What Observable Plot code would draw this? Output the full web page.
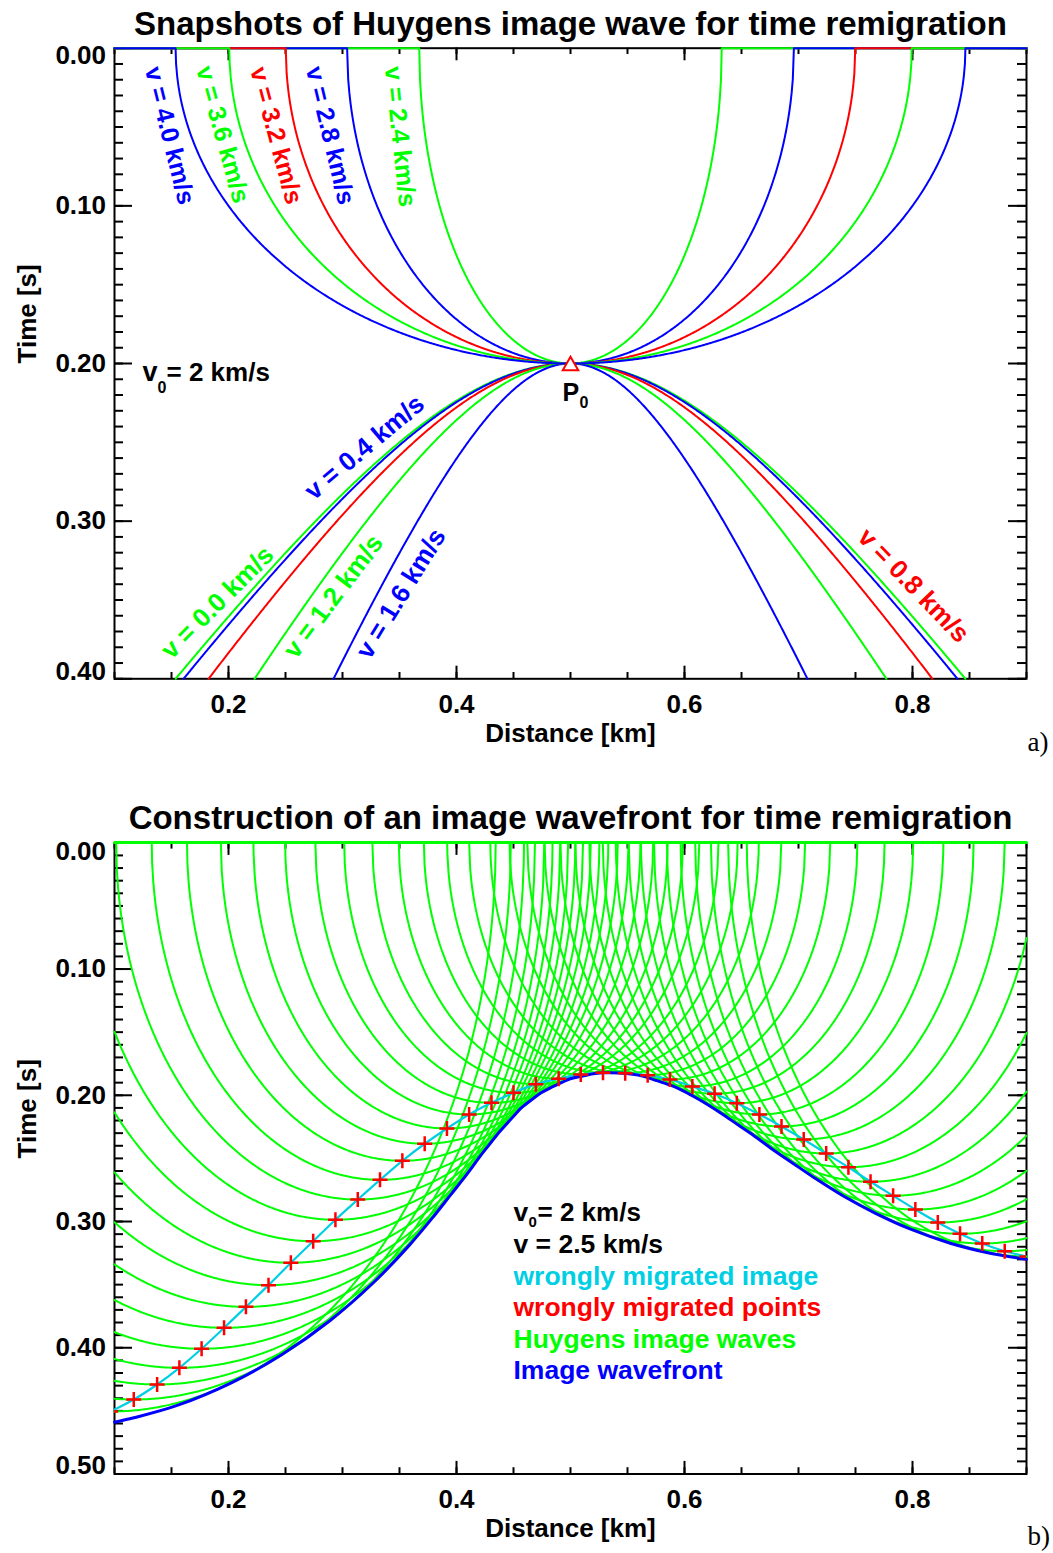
<!DOCTYPE html>
<html>
<head>
<meta charset="utf-8">
<script src="https://cdn.jsdelivr.net/npm/d3@7"></script>
<script src="https://cdn.jsdelivr.net/npm/@observablehq/plot@0.6"></script>
<style>
  html, body { margin: 0; padding: 0; background: #fff; overflow: hidden; }
  #wrap { width: 1053px; }
  #wrap svg { display: block; }
</style>
</head>
<body>
<div id="wrap"></div>
<script>
// ================= DATA =================
// Panel a: Huygens image wave of point P0 for several remigration velocities
const v0A = 2;                                        // km/s (label "v0 = 2 km/s")
const p0 = [0.5, 0.2];                                // P0: distance [km], time [s]
const velocitiesA = [0.0, 0.4, 0.8, 1.2, 1.6, 2.4, 2.8, 3.2, 3.6, 4.0]; // km/s (curve labels)
const labelTextsA = velocitiesA.map(v => `v = ${v.toFixed(1)} km/s`);

// Panel b: wrongly migrated points (red crosses)
const v0B = 2;                                        // km/s
const vB = 2.5;                                       // km/s
const pointsX = [0.0965, 0.1169, 0.1374, 0.1569, 0.1764, 0.1961, 0.2153, 0.2351, 0.2547, 0.2743,
                 0.2938, 0.3134, 0.3329, 0.3525, 0.3721, 0.3916, 0.4111, 0.4307, 0.4500, 0.4696,
                 0.4896, 0.5090, 0.5285, 0.5480, 0.5677, 0.5872, 0.6069, 0.6264, 0.6459, 0.6657,
                 0.6851, 0.7046, 0.7243, 0.7438, 0.7632, 0.7830, 0.8025, 0.8222, 0.8417, 0.8612,
                 0.8809, 0.9004];
const pointsT = [0.4505, 0.4410, 0.4291, 0.4159, 0.4008, 0.3842, 0.3676, 0.3504, 0.3327, 0.3156,
                 0.2986, 0.2826, 0.2670, 0.2519, 0.2384, 0.2263, 0.2152, 0.2060, 0.1980, 0.1912,
                 0.1869, 0.1835, 0.1822, 0.1825, 0.1841, 0.1875, 0.1930, 0.1988, 0.2063, 0.2152,
                 0.2247, 0.2350, 0.2461, 0.2570, 0.2685, 0.2796, 0.2905, 0.3008, 0.3097, 0.3174,
                 0.3235, 0.3277];
// Image wavefront (blue envelope)
const wavefrontX = [0.100, 0.117, 0.155, 0.2029, 0.2466, 0.2889, 0.3266, 0.3587, 0.3806, 0.3945,
                    0.4097, 0.4208, 0.4291, 0.4356, 0.4419, 0.4508, 0.4559, 0.4599, 0.4673, 0.4739,
                    0.4819, 0.4924, 0.4997, 0.5101, 0.5215, 0.5311, 0.5430, 0.5545, 0.5633, 0.5756,
                    0.5883, 0.5975, 0.6089, 0.6208, 0.6324, 0.6466, 0.6606, 0.6761, 0.6950, 0.7141,
                    0.7393, 0.7676, 0.7984, 0.8331, 0.8650, 0.9000];
const wavefrontT = [0.4590, 0.4555, 0.4457, 0.4276, 0.4056, 0.3786, 0.3489, 0.3187, 0.2952, 0.2793,
                    0.2619, 0.2482, 0.2387, 0.2312, 0.2248, 0.2158, 0.2108, 0.2077, 0.2025, 0.1982,
                    0.1943, 0.1898, 0.1869, 0.1849, 0.1827, 0.1822, 0.1824, 0.1833, 0.1848, 0.1884,
                    0.1922, 0.1959, 0.2014, 0.2077, 0.2144, 0.2232, 0.2318, 0.2421, 0.2538, 0.2655,
                    0.2798, 0.2935, 0.3061, 0.3172, 0.3245, 0.3300];

// Axis ticks
const xDomain = [0.1, 0.9];
const xTicks = [0.2, 0.4, 0.6, 0.8];
const yTicksA = [0.0, 0.1, 0.2, 0.3, 0.4];
const yTicksB = [0.0, 0.1, 0.2, 0.3, 0.4, 0.5];

// ================= STYLES =================
const GREEN = "#00ff00", BLUE = "#0000ff", RED = "#ff0000", CYAN = "#00cfe3";
const colorsA = [GREEN, BLUE, RED, GREEN, BLUE, GREEN, BLUE, RED, GREEN, BLUE];
// label placement for each velocity in panel a: [centre x px, centre y px, rotation deg, font size]
const labelPlaceA = [[217, 602, -45, 26], [364, 447, -40, 26], [913, 585, 46, 26], [333, 596, -53, 26],
                     [400.5, 593, -58.5, 26], [399.5, 136, 84, 25], [329.5, 135, 76.5, 25],
                     [275.5, 135, 75, 25], [222, 134, 74.5, 25], [169, 135, 76, 25]];
const FONT = "'Liberation Sans', Arial, Helvetica, sans-serif";
const W = 1053, ML = 114, MR = 27;

// Huygens image wave of a point (xc, tc) for time remigration v0 -> v:
// t^2 = tc^2 + 4 (x - xc)^2 / (v0^2 - v^2), evaluated across the plotted distance range
function imageWave(xc, tc, v, vRef, xLo, xHi, tMax) {
  const c = 4 / (vRef * vRef - v * v);
  let lo = xLo, hi = xHi;
  const extra = [];
  if (c > 0) {
    const dm = Math.sqrt((tMax * tMax - tc * tc) / c);
    lo = Math.max(xLo, xc - dm); hi = Math.min(xHi, xc + dm);
    extra.push(lo, hi);
  } else {
    const w = Math.sqrt(tc * tc / -c);
    for (const e of [xc - w, xc + w]) if (e > xLo && e < xHi) extra.push(e);
    extra.push(xLo, xHi);
  }
  const xs = d3.range(Math.ceil(lo / 0.001), Math.floor(hi / 0.001) + 1)
    .map(i => i * 0.001).filter(x => x > lo && x < hi).concat(extra).sort((a, b) => a - b);
  return xs.map(x => ({x, t: Math.sqrt(Math.max(0, tc * tc + c * (x - xc) ** 2))}));
}

function makePanel({H, MT, MB, yMax, yTicks, yShift, marks}) {
  const pxX = (W - ML - MR) / (xDomain[1] - xDomain[0]);
  const pxY = (H - MT - MB) / yMax;
  const [xa, xb] = xDomain;
  const yMinor = d3.range(0, Math.round(yMax * 100) + 1).map(i => i / 100);
  const xMinor = d3.range(Math.round(xa * 20), Math.round(xb * 20) + 1).map(i => i / 20);
  const tk = {stroke: "black", strokeWidth: 2};
  const lab = {fontSize: 26, fontWeight: "bold", fill: "black"};
  const yText = d => d.toFixed(2);
  const axes = [
    Plot.ruleY(yMinor, {y: d => d, x1: () => xa, x2: () => xa + 9 / pxX, ...tk}),
    Plot.ruleY(yTicks, {y: d => d, x1: () => xa, x2: () => xa + 18 / pxX, ...tk}),
    Plot.ruleY(yMinor, {y: d => d, x1: () => xb - 9 / pxX, x2: () => xb, ...tk}),
    Plot.ruleY(yTicks, {y: d => d, x1: () => xb - 18 / pxX, x2: () => xb, ...tk}),
    Plot.ruleX(xMinor, {x: d => d, y1: () => yMax, y2: () => yMax - 6.3 / pxY, ...tk}),
    Plot.ruleX(xTicks, {x: d => d, y1: () => yMax, y2: () => yMax - 12.6 / pxY, ...tk}),
    Plot.ruleX(xMinor, {x: d => d, y1: () => 0, y2: () => 6.3 / pxY, ...tk}),
    Plot.ruleX(xTicks, {x: d => d, y1: () => 0, y2: () => 12.6 / pxY, ...tk}),
    Plot.frame({stroke: "black", strokeWidth: 2})
  ];
  const tickLabels = [
    Plot.text(yTicks.slice(0, 1), {x: () => xa, y: d => d, text: yText, textAnchor: "end", dx: -8.5, dy: yShift, ...lab}),
    Plot.text(yTicks.slice(1, -1), {x: () => xa, y: d => d, text: yText, textAnchor: "end", dx: -8.5, ...lab}),
    Plot.text(yTicks.slice(-1), {x: () => xa, y: d => d, text: yText, textAnchor: "end", dx: -8.5, dy: -yShift, ...lab}),
    Plot.text(xTicks, {x: d => d, frameAnchor: "bottom", dy: 34.3, lineAnchor: "bottom", text: d => d.toFixed(1), ...lab})
  ];
  return Plot.plot({
    width: W, height: H,
    marginLeft: ML, marginRight: MR, marginTop: MT, marginBottom: MB,
    x: {domain: xDomain, axis: null},
    y: {domain: [0, yMax], reverse: true, axis: null},
    style: {fontFamily: FONT, background: "white", color: "black", overflow: "visible"},
    marks: [...axes, ...marks, ...tickLabels]
  });
}

// text placed at page-pixel position (px, py) of a panel whose frame starts at (ML, MT)
function note(text, px, py, MT, opts = {}) {
  return Plot.text([text], {
    frameAnchor: "top-left", dx: px - ML, dy: py - MT, text: d => d,
    textAnchor: "start", lineAnchor: "bottom", fontWeight: "bold", fontSize: 26, fill: "black", ...opts
  });
}

// ================= PANEL A =================
const A = {H: 760, MT: 47.7, MB: 760 - 678.3, yMax: 0.4};
const marksA = [
  ...velocitiesA.map((v, i) =>
    Plot.line(imageWave(p0[0], p0[1], v, v0A, xDomain[0], xDomain[1], A.yMax),
      {x: "x", y: "t", stroke: colorsA[i], strokeWidth: 2})),
  Plot.dot([p0], {x: d => d[0], y: d => d[1], symbol: "triangle2", r: 7.4, dy: 2.2,
    stroke: RED, fill: "white", strokeWidth: 2}),
  ...labelTextsA.map((t, i) => {
    const [cx, cy, rot, fs] = labelPlaceA[i];
    return note(t, cx, cy, A.MT, {textAnchor: "middle", lineAnchor: "middle", rotate: rot, fontSize: fs, fill: colorsA[i]});
  }),
  note("v", 142, 380, A.MT, {fontSize: 27}),
  note("0", 157, 392, A.MT, {fontSize: 16}),
  note(`= ${v0A} km/s`, 166, 380, A.MT, {fontSize: 26}),
  note("P", 562, 400, A.MT, {fontSize: 25}),
  note("0", 579, 407, A.MT, {fontSize: 16}),
  Plot.text(["Snapshots of Huygens image wave for time remigration"], {frameAnchor: "top", dy: 34 - A.MT,
    lineAnchor: "bottom", text: d => d, fontSize: 33, fontWeight: "bold"}),
  Plot.text(["Distance [km]"], {frameAnchor: "bottom", dy: 62.7, lineAnchor: "bottom", text: d => d, fontSize: 26, fontWeight: "bold"}),
  Plot.text(["Time [s]"], {frameAnchor: "left", dx: 35 - ML, rotate: -90, lineAnchor: "bottom", text: d => d, fontSize: 26, fontWeight: "bold"}),
  Plot.text(["a)"], {frameAnchor: "bottom-right", dx: 1, dy: 71.7, textAnchor: "start", lineAnchor: "bottom", text: d => d,
    fontSize: 27, fontFamily: "'Liberation Serif', 'Times New Roman', serif"})
];

// ================= PANEL B =================
const B = {H: 793, MT: 82.3, MB: 793 - 713.5, yMax: 0.5, off: 760};
const points = pointsX.map((x, i) => ({x, t: pointsT[i]}));
const wavefront = wavefrontX.map((x, i) => ({x, t: wavefrontT[i]}));
const huygens = points.flatMap((p, i) =>
  imageWave(p.x, p.t, vB, v0B, xDomain[0], xDomain[1], B.yMax).map(q => ({...q, id: i})));
const legendB = [
  ["wrongly migrated image", CYAN],
  ["wrongly migrated points", RED],
  ["Huygens image waves", GREEN],
  ["Image wavefront", BLUE]
];
const marksB = [
  Plot.line(huygens, {x: "x", y: "t", z: "id", stroke: GREEN, strokeWidth: 2}),
  Plot.line(points, {x: "x", y: "t", curve: "catmull-rom", stroke: CYAN, strokeWidth: 2.2, clip: true}),
  Plot.line(wavefront, {x: "x", y: "t", curve: "catmull-rom", stroke: BLUE, strokeWidth: 3}),
  Plot.dot(points, {x: "x", y: "t", symbol: "plus", r: 4.9, stroke: RED, strokeWidth: 2.5, clip: true}),
  note("v", 513, 1220 - B.off, B.MT, {fontSize: 26.5}),
  note("0", 528, 1226 - B.off, B.MT, {fontSize: 15}),
  note(`= ${v0B} km/s`, 537, 1220 - B.off, B.MT, {fontSize: 26}),
  note(`v = ${vB} km/s`, 513, 1252.5 - B.off, B.MT, {fontSize: 26.5}),
  ...legendB.map(([t, c], i) => note(t, 513, 1284 + 31.5 * i - B.off, B.MT, {fontSize: 26.5, fill: c})),
  Plot.text(["Construction of an image wavefront for time remigration"], {frameAnchor: "top", dy: 68 - B.MT,
    lineAnchor: "bottom", text: d => d, fontSize: 33, fontWeight: "bold"}),
  Plot.text(["Distance [km]"], {frameAnchor: "bottom", dy: 63, lineAnchor: "bottom", text: d => d, fontSize: 26, fontWeight: "bold"}),
  Plot.text(["Time [s]"], {frameAnchor: "left", dx: 35 - ML, rotate: -90, lineAnchor: "bottom", text: d => d, fontSize: 26, fontWeight: "bold"}),
  Plot.text(["b)"], {frameAnchor: "bottom-right", dx: 1, dy: 71, textAnchor: "start", lineAnchor: "bottom", text: d => d,
    fontSize: 27, fontFamily: "'Liberation Serif', 'Times New Roman', serif"})
];

const wrap = document.getElementById("wrap");
wrap.append(makePanel({H: A.H, MT: A.MT, MB: A.MB, yMax: A.yMax, yTicks: yTicksA, yShift: 7.5, marks: marksA}));
wrap.append(makePanel({H: B.H, MT: B.MT, MB: B.MB, yMax: B.yMax, yTicks: yTicksB, yShift: 8.5, marks: marksB}));
</script>
</body>
</html>
